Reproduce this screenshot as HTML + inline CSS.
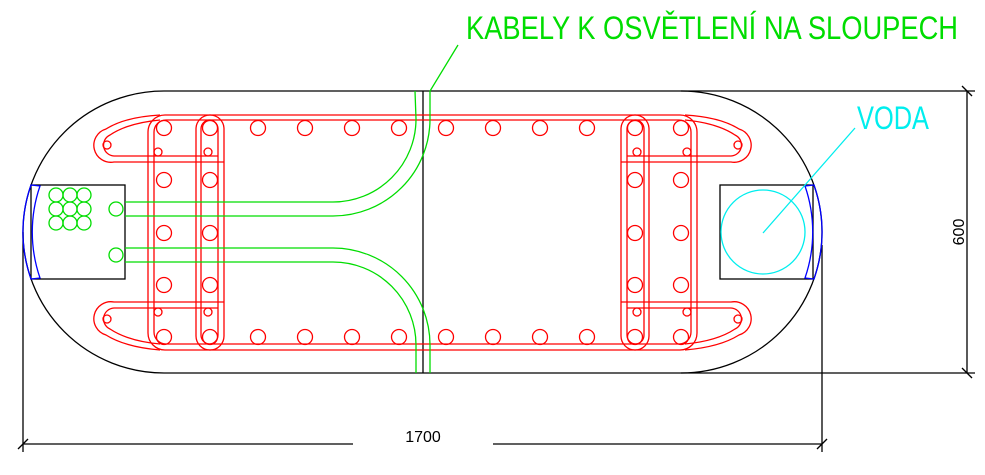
<!DOCTYPE html>
<html><head><meta charset="utf-8"><style>
html,body{margin:0;padding:0;background:#fff;}
svg{display:block;}
text{font-family:"Liberation Sans",sans-serif;}
</style></head><body>
<svg width="985" height="475" viewBox="0 0 985 475" xmlns="http://www.w3.org/2000/svg" fill="none" stroke-width="1.3">
<path d="M164,91 L681,91 A141,141 0 0 1 681,373 L164,373 A141,141 0 0 1 164,91 Z" stroke="#000"/>
<line x1="681" y1="91" x2="975" y2="91" stroke="#000"/>
<line x1="681" y1="373" x2="975" y2="373" stroke="#000"/>
<line x1="423" y1="91" x2="423" y2="373" stroke="#000"/>
<line x1="23" y1="232" x2="23" y2="452" stroke="#000"/>
<line x1="822" y1="245" x2="822" y2="452" stroke="#000"/>
<line x1="23" y1="444" x2="353" y2="444" stroke="#000"/>
<line x1="493" y1="444" x2="822" y2="444" stroke="#000"/>
<line x1="18" y1="449" x2="28" y2="439" stroke="#000"/>
<line x1="817" y1="449" x2="827" y2="439" stroke="#000"/>
<text x="423" y="442" font-size="16" fill="#000" stroke="none" text-anchor="middle">1700</text>
<line x1="967" y1="91" x2="967" y2="373" stroke="#000"/>
<line x1="962" y1="86" x2="972" y2="96" stroke="#000"/>
<line x1="962" y1="368" x2="972" y2="378" stroke="#000"/>
<text x="0" y="0" font-size="16" fill="#000" stroke="none" text-anchor="middle" transform="translate(964,232) rotate(-90)">600</text>
<rect x="31" y="185" width="94" height="94" stroke="#000" fill="#fff"/>
<rect x="720" y="185" width="93" height="94" stroke="#000" fill="#fff"/>
<path d="M31,185 A141,141 0 0 0 31,279 L40,278 A141,141 0 0 1 40,186 Z" stroke="#00f"/>
<path d="M814,185 A141,141 0 0 1 814,279 L805,278 A141,141 0 0 0 805,186 Z" stroke="#00f"/>
<circle cx="763" cy="232" r="42" stroke="#0ee"/>
<line x1="763" y1="233" x2="855" y2="128" stroke="#0ee"/>
<text x="857" y="129" font-size="32" fill="#0ee" stroke="none" textLength="72" lengthAdjust="spacingAndGlyphs">VODA</text>
<g stroke="#f00">
<g>
<rect x="148" y="115" width="549" height="235" rx="17"/>
<rect x="154" y="120" width="537" height="224" rx="12"/>
<rect x="196" y="115" width="28" height="235" rx="14"/>
<rect x="201" y="120" width="17" height="224" rx="9"/>
<path d="M160,115 Q125,117 106,129 A17,17 0 0 0 114,162 L224,162"/>
<path d="M160,120 Q128,123 110,135 A11,11 0 0 0 114,156 L218,156"/>
<path d="M160,350 Q125,347 106,335 A17,17 0 0 1 114,302 L224,302"/>
<path d="M160,344 Q128,341 110,329 A11,11 0 0 1 114,308 L218,308"/>
<circle cx="107" cy="145" r="4"/><circle cx="158" cy="152" r="4"/><circle cx="208" cy="152" r="4"/>
<circle cx="107" cy="319" r="4"/><circle cx="158" cy="312" r="4"/><circle cx="208" cy="312" r="4"/>
<circle cx="164" cy="128" r="7.5"/><circle cx="164" cy="180" r="7.5"/><circle cx="164" cy="233" r="7.5"/><circle cx="164" cy="285" r="7.5"/><circle cx="164" cy="337" r="7.5"/>
<circle cx="210" cy="128" r="7.5"/><circle cx="210" cy="180" r="7.5"/><circle cx="210" cy="233" r="7.5"/><circle cx="210" cy="285" r="7.5"/><circle cx="210" cy="337" r="7.5"/>
<circle cx="258" cy="128" r="7.5"/><circle cx="305" cy="128" r="7.5"/><circle cx="352" cy="128" r="7.5"/><circle cx="399" cy="128" r="7.5"/>
<circle cx="258" cy="337" r="7.5"/><circle cx="305" cy="337" r="7.5"/><circle cx="352" cy="337" r="7.5"/><circle cx="399" cy="337" r="7.5"/>
</g>
<g transform="translate(845,0) scale(-1,1)">
<rect x="196" y="115" width="28" height="235" rx="14"/>
<rect x="201" y="120" width="17" height="224" rx="9"/>
<path d="M160,115 Q125,117 106,129 A17,17 0 0 0 114,162 L224,162"/>
<path d="M160,120 Q128,123 110,135 A11,11 0 0 0 114,156 L218,156"/>
<path d="M160,350 Q125,347 106,335 A17,17 0 0 1 114,302 L224,302"/>
<path d="M160,344 Q128,341 110,329 A11,11 0 0 1 114,308 L218,308"/>
<circle cx="107" cy="145" r="4"/><circle cx="158" cy="152" r="4"/><circle cx="208" cy="152" r="4"/>
<circle cx="107" cy="319" r="4"/><circle cx="158" cy="312" r="4"/><circle cx="208" cy="312" r="4"/>
<circle cx="164" cy="128" r="7.5"/><circle cx="164" cy="180" r="7.5"/><circle cx="164" cy="233" r="7.5"/><circle cx="164" cy="285" r="7.5"/><circle cx="164" cy="337" r="7.5"/>
<circle cx="210" cy="128" r="7.5"/><circle cx="210" cy="180" r="7.5"/><circle cx="210" cy="233" r="7.5"/><circle cx="210" cy="285" r="7.5"/><circle cx="210" cy="337" r="7.5"/>
<circle cx="258" cy="128" r="7.5"/><circle cx="305" cy="128" r="7.5"/><circle cx="352" cy="128" r="7.5"/><circle cx="399" cy="128" r="7.5"/>
<circle cx="258" cy="337" r="7.5"/><circle cx="305" cy="337" r="7.5"/><circle cx="352" cy="337" r="7.5"/><circle cx="399" cy="337" r="7.5"/>
</g>
</g>
<g stroke="#0d0">
<circle cx="56" cy="195" r="7"/><circle cx="70" cy="195" r="7"/><circle cx="84" cy="195" r="7"/>
<circle cx="56" cy="209" r="7"/><circle cx="70" cy="209" r="7"/><circle cx="84" cy="209" r="7"/>
<circle cx="56" cy="223" r="7"/><circle cx="70" cy="223" r="7"/><circle cx="84" cy="223" r="7"/>
<circle cx="116" cy="209" r="7"/><circle cx="116" cy="255" r="7"/>
<path d="M125,202 L333,202 A83,83 0 0 0 416,119 L415,91"/>
<path d="M125,216 L333,216 A97,97 0 0 0 430,119 L430,91 L458,45"/>
<path d="M125,248 L333,248 A97,97 0 0 1 430,345 L430,373"/>
<path d="M125,262 L333,262 A83,83 0 0 1 416,345 L416,373"/>
</g>
<text x="466" y="39" font-size="32" fill="#0d0" stroke="none" textLength="492" lengthAdjust="spacingAndGlyphs">KABELY K OSVĚTLENÍ NA SLOUPECH</text>
</svg>
</body></html>
